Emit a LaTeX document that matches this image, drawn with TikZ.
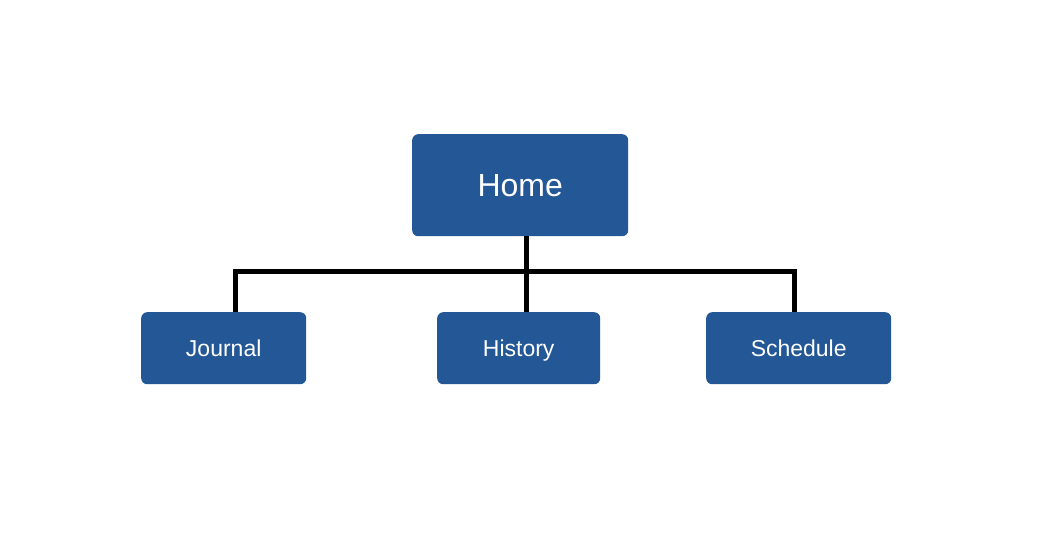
\documentclass[tikz,border=0pt]{standalone}
\usepackage{fontspec}
\setmainfont{Liberation Sans}
\definecolor{boxblue}{RGB}{35,87,150}
\begin{document}
\begin{tikzpicture}[x=1pt,y=-1pt,
  navbox/.style={fill=boxblue, draw=none, rounded corners=6pt, text=white, inner sep=0pt, anchor=north west},
  small/.style={font=\fontsize{23}{27}\selectfont, text height=18.5pt, text depth=2pt, minimum height=72pt},
  link/.style={draw=black, line width=5pt}]
\useasboundingbox[fill=white] (0,0) rectangle (1047,538);
\node[navbox, minimum width=216pt, minimum height=102pt, font=\fontsize{32}{36}\selectfont, text height=26.5pt, text depth=3.5pt] (home) at (412,134) {Home};
\node[navbox, small, minimum width=165pt] (journal) at (141,312) {Journal};
\node[navbox, small, minimum width=163pt] (history) at (437,312) {History};
\node[navbox, small, minimum width=185pt] (schedule) at (706,312) {Schedule};
\coordinate (hub) at (526.5,271.5);
\coordinate (jl) at (235.5,271.5);
\coordinate (sr) at (794.5,271.5);
\draw[link] (home.south -| hub) -- (hub);
\draw[link] (journal.north -| jl) -- (jl) -- (sr) -- (schedule.north -| sr);
\draw[link] (hub) -- (history.north -| hub);
\end{tikzpicture}
\end{document}
